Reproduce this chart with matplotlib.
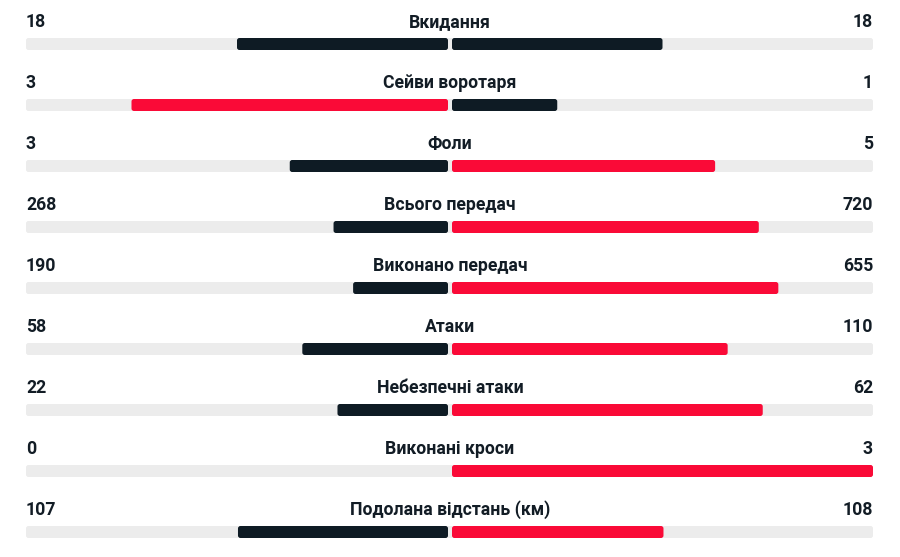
import matplotlib
matplotlib.use("Agg")
import matplotlib.pyplot as plt
from matplotlib.patches import FancyBboxPatch

# match stats (home / away)
labels = ["Вкидання", "Сейви воротаря", "Фоли", "Всього передач", "Виконано передач",
          "Атаки", "Небезпечні атаки", "Виконані кроси", "Подолана відстань (км)"]
home = [18, 3, 3, 268, 190, 58, 22, 0, 107]
away = [18, 1, 5, 720, 655, 110, 62, 3, 108]
home_txt = ["18", "3", "3", "268", "190", "58", "22", "0", "107"]
away_txt = ["18", "1", "5", "720", "655", "110", "62", "3", "108"]

DARK = "#0e1b24"
RED = "#fa0a37"
GREY = "#ececec"
TXT = "#121c25"

plt.rcParams['font.family'] = ['Roboto', 'DejaVu Sans']

fig = plt.figure(figsize=(9, 5.57), dpi=100)
ax = fig.add_axes([0, 0, 1, 1])
ax.set_xlim(0, 900)
ax.set_ylim(557, 0)
ax.axis("off")

x0, x1 = 26, 873
cx = 450
gap = 2
bh = 12
row_h = 61.0
y_first = 44
fs = 12.7

def bar(xa, xb, yc, color):
    w = xb - xa
    if w <= 0:
        return
    ax.add_patch(FancyBboxPatch((xa, yc - bh / 2), w, bh,
                                boxstyle="round,pad=0,rounding_size=2.5",
                                fc=color, ec="none"))

for i, lab in enumerate(labels):
    yc = y_first + i * row_h
    h, a = home[i], away[i]
    tot = h + a
    bar(x0, x1, yc, GREY)
    if h > a:
        ch, ca = RED, DARK
    elif a > h:
        ch, ca = DARK, RED
    else:
        ch, ca = DARK, DARK
    lw = (cx - gap - x0) * h / tot
    rw = (x1 - cx - gap) * a / tot
    bar(cx - gap - lw, cx - gap, yc, ch)
    bar(cx + gap, cx + gap + rw, yc, ca)

    ty = yc - 22
    ax.text(x0, ty, home_txt[i], ha="left", va="center", fontsize=fs,
            fontweight="bold", color=TXT)
    ax.text(x1, ty, away_txt[i], ha="right", va="center", fontsize=fs,
            fontweight="bold", color=TXT)
    ax.text(cx, ty, lab, ha="center", va="center", fontsize=fs,
            fontweight="bold", color=TXT)

fig.savefig("out.png", dpi=100, facecolor="white")
